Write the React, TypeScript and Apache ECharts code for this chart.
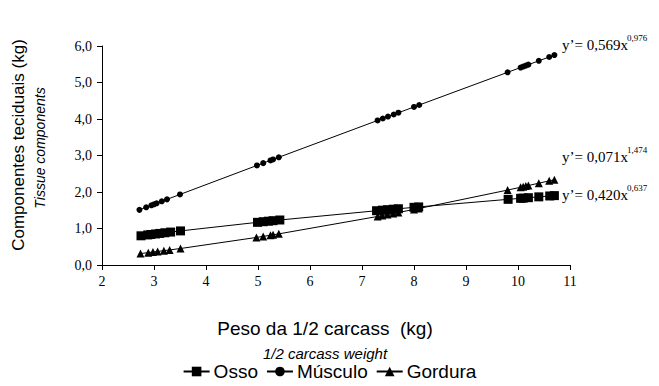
import React, { useEffect, useRef } from "react";
import * as echarts from "echarts";

const ossoX = [2.75, 2.88, 2.94, 3.03, 3.11, 3.21, 3.32, 3.51, 4.99, 5.1, 5.2, 5.29, 5.42, 7.28, 7.39, 7.49, 7.6, 7.7, 8.0, 8.09, 9.81, 10.05, 10.1, 10.2, 10.4, 10.61, 10.7];
const ossoY = [0.8, 0.824, 0.835, 0.851, 0.865, 0.883, 0.902, 0.934, 1.169, 1.186, 1.2, 1.214, 1.233, 1.487, 1.502, 1.515, 1.529, 1.541, 1.58, 1.591, 1.799, 1.827, 1.832, 1.844, 1.867, 1.891, 1.901];

const musculoX = [2.72, 2.85, 2.95, 3.0, 3.05, 3.15, 3.25, 3.5, 4.98, 5.1, 5.24, 5.29, 5.4, 7.3, 7.4, 7.5, 7.61, 7.7, 8.0, 8.1, 9.8, 10.05, 10.1, 10.15, 10.2, 10.4, 10.6, 10.7];
const musculoY = [1.511, 1.581, 1.636, 1.663, 1.69, 1.744, 1.798, 1.933, 2.727, 2.791, 2.865, 2.892, 2.951, 3.96, 4.013, 4.066, 4.124, 4.172, 4.33, 4.383, 5.279, 5.41, 5.437, 5.463, 5.489, 5.594, 5.699, 5.752];

const gorduraX = [2.74, 2.89, 2.98, 3.07, 3.19, 3.3, 3.51, 4.97, 5.1, 5.24, 5.29, 5.4, 7.3, 7.39, 7.49, 7.6, 7.7, 8.0, 8.09, 9.8, 10.05, 10.1, 10.15, 10.2, 10.4, 10.6, 10.7];
const gorduraY = [0.314, 0.339, 0.355, 0.371, 0.393, 0.413, 0.452, 0.755, 0.784, 0.816, 0.827, 0.853, 1.33, 1.354, 1.381, 1.411, 1.439, 1.522, 1.547, 2.053, 2.13, 2.146, 2.162, 2.178, 2.241, 2.305, 2.336];

const xTicks = [2, 3, 4, 5, 6, 7, 8, 9, 10, 11];
const yTicks = [0, 1, 2, 3, 4, 5, 6];
const yTickLabels = ["0,0", "1,0", "2,0", "3,0", "4,0", "5,0", "6,0"];

const seriesNames = ["Osso", "Músculo", "Gordura"];
const equations = [
  { base: "y’= 0,569x", exp: "0,976" },
  { base: "y’= 0,071x", exp: "1,474" },
  { base: "y’= 0,420x", exp: "0,637" },
];

const zip = (xs: number[], ys: number[]) => xs.map((x, i) => [x, ys[i]]);

export default function App() {
  const ref = useRef<HTMLDivElement>(null);
  useEffect(() => {
    if (!ref.current) return;
    const chart = echarts.init(ref.current, null, { renderer: "svg" });
    const serif = '"Liberation Serif", "Times New Roman", serif';
    const sans = '"Liberation Sans", Arial, sans-serif';
    const mk = (name: string, data: number[][], symbol: string, size: number) => ({
      name,
      type: "line",
      data,
      symbol,
      symbolSize: size,
      showSymbol: true,
      lineStyle: { color: "#000", width: 1 },
      itemStyle: { color: "#000" },
      emphasis: { disabled: true },
    });
    chart.setOption({
      animation: false,
      backgroundColor: "#fff",
      grid: { left: 102, right: 89, top: 46, bottom: 121, containLabel: false },
      xAxis: {
        type: "value",
        min: 2,
        max: 11,
        interval: 1,
        axisLine: { lineStyle: { color: "#000" } },
        axisTick: { show: true, length: 5, lineStyle: { color: "#000" } },
        axisLabel: { show: false },
        splitLine: { show: false },
      },
      yAxis: {
        type: "value",
        min: 0,
        max: 6,
        interval: 1,
        axisLine: { show: true, lineStyle: { color: "#000" } },
        axisTick: { show: true, length: 5, lineStyle: { color: "#000" } },
        axisLabel: { show: false },
        splitLine: { show: false },
      },
      legend: {
        data: seriesNames,
        bottom: 0,
        left: "center",
        itemWidth: 26,
        itemHeight: 12,
        itemGap: 8,
        textStyle: { fontFamily: sans, fontSize: 19, color: "#000", padding: [0, 0, 0, -1] },
        selectedMode: false,
      },
      series: [
        mk("Osso", zip(ossoX, ossoY), "rect", 9),
        mk("Músculo", zip(musculoX, musculoY), "circle", 6),
        mk("Gordura", zip(gorduraX, gorduraY), "triangle", 8),
      ],
    });

    const tickGraphics: any[] = [];
    xTicks.forEach((v) => {
      const p = chart.convertToPixel({ gridIndex: 0 }, [v, 0]) as number[];
      tickGraphics.push({
        type: "text",
        x: p[0],
        y: p[1] + 9,
        style: { text: String(v), font: `14px ${serif}`, fill: "#000", align: "center", verticalAlign: "top" },
      });
    });
    yTicks.forEach((v, i) => {
      const p = chart.convertToPixel({ gridIndex: 0 }, [2, v]) as number[];
      tickGraphics.push({
        type: "text",
        x: p[0] - 10,
        y: p[1],
        style: { text: yTickLabels[i], font: `14px ${serif}`, fill: "#000", align: "right", verticalAlign: "middle" },
      });
    });

    const eqPos = [
      { x: 562, y: 46 },
      { x: 562, y: 158 },
      { x: 562, y: 196 },
    ];
    const eqGraphics: any[] = [];
    equations.forEach((e, i) => {
      eqGraphics.push({
        type: "text",
        x: eqPos[i].x,
        y: eqPos[i].y - 9,
        style: { text: e.base, font: `15px ${serif}`, fill: "#000" },
      });
      eqGraphics.push({
        type: "text",
        x: eqPos[i].x + 65,
        y: eqPos[i].y - 13,
        style: { text: e.exp, font: `9px ${serif}`, fill: "#000" },
      });
    });

    chart.setOption({
      graphic: [
        {
          type: "text",
          x: 18,
          y: 145,
          rotation: Math.PI / 2,
          style: {
            text: "Componentes teciduais (kg)",
            font: `17px ${sans}`,
            fill: "#000",
            align: "center",
            verticalAlign: "middle",
          },
        },
        {
          type: "text",
          x: 40,
          y: 148,
          rotation: Math.PI / 2,
          style: {
            text: "Tissue components",
            font: `italic 14px ${sans}`,
            fill: "#000",
            align: "center",
            verticalAlign: "middle",
          },
        },
        {
          type: "text",
          x: 325,
          y: 328,
          style: {
            text: "Peso da 1/2 carcass  (kg)",
            font: `19px ${sans}`,
            fill: "#000",
            align: "center",
            verticalAlign: "middle",
          },
        },
        {
          type: "text",
          x: 325,
          y: 353,
          style: {
            text: "1/2 carcass weight",
            font: `italic 15px ${sans}`,
            fill: "#000",
            align: "center",
            verticalAlign: "middle",
          },
        },
        ...tickGraphics,
        ...eqGraphics,
      ],
    });
    return () => chart.dispose();
  }, []);
  return <div ref={ref} style={{ width: 659, height: 386, margin: -8 }} />;
}
